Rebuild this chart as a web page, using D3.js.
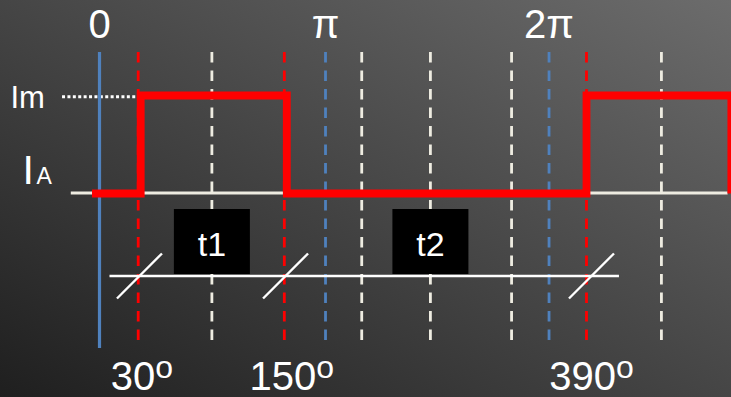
<!DOCTYPE html>
<html>
<head>
<meta charset="utf-8">
<script src="https://cdn.jsdelivr.net/npm/d3@7/dist/d3.min.js"></script>
<style>
    html, body { margin: 0; padding: 0; background: #3a3a3a; }
    svg { display: block; }
    text { font-family: "Liberation Sans", Arial, sans-serif; fill: #ffffff; }
</style>
</head>
<body>
<svg id="canvas" width="731" height="397"></svg>
<script>
// phase current i_A, angles in degrees
var waveDeg = [-6, 33, 33, 150, 150, 390, 390, 506, 506];
var waveLevel = [0, 0, 1, 1, 0, 0, 1, 1, 0];

// dashed guide lines
var redGuides = [31, 148, 390];
var blueGuides = [181, 360];
var whiteGuides = [90, 210, 265, 330, 450];

var topLabelDeg = [0, 181, 360];
var topLabelText = ["0", "\u03c0", "2\u03c0"];
var bottomLabelDeg = [30, 150, 390];
var bottomLabelText = ["30", "150", "390"];

var intervalDeg = [90, 265];
var intervalText = ["t1", "t2"];
var slashDeg = [32, 149, 394];

var baselineSpan = [-23, 503];
var timeAxisSpan = [8, 416];
var imDotSpan = [-30, 95];

var svg = d3.select("#canvas");
var W = 731, H = 397;

var x = d3.scaleLinear().domain([0, 390]).range([99.5, 586.5]);
var y = d3.scaleLinear().domain([0, 1]).range([193.5, 95.5]);

var guideTop = 52, guideBottom = 343;
var axisY = 276;

// background, dark bottom-left to lighter top-right
var grad = svg.append("defs").append("linearGradient")
    .attr("id", "bg")
    .attr("x1", 0).attr("y1", 1)
    .attr("x2", 1).attr("y2", 0);
grad.append("stop").attr("offset", 0).attr("stop-color", "#1f1f1f");
grad.append("stop").attr("offset", 1).attr("stop-color", "#6c6c6c");
svg.append("rect").attr("width", W).attr("height", H).attr("fill", "url(#bg)");

// zero line
svg.append("line")
    .attr("x1", x(baselineSpan[0])).attr("x2", x(baselineSpan[1]))
    .attr("y1", y(0) - 0.5).attr("y2", y(0) - 0.5)
    .attr("stroke", "#eeece1").attr("stroke-width", 3);

// Im dotted level
svg.append("line")
    .attr("x1", x(imDotSpan[0])).attr("x2", x(imDotSpan[1]))
    .attr("y1", y(1) + 1.2).attr("y2", y(1) + 1.2)
    .attr("stroke", "#ffffff").attr("stroke-width", 3)
    .attr("stroke-dasharray", "3,2.4");

function drawGuides(list, color) {
    svg.append("g").selectAll("line").data(list).enter().append("line")
        .attr("x1", function (d) { return x(d); })
        .attr("x2", function (d) { return x(d); })
        .attr("y1", guideTop).attr("y2", guideBottom)
        .attr("stroke", color).attr("stroke-width", 2.8)
        .attr("stroke-dasharray", "10.5,8");
}
drawGuides(whiteGuides, "#eeece1");
drawGuides(blueGuides, "#4f81bd");
drawGuides(redGuides, "#ff0000");

// solid blue at 0
svg.append("line")
    .attr("x1", x(0)).attr("x2", x(0))
    .attr("y1", guideTop).attr("y2", 348)
    .attr("stroke", "#4f81bd").attr("stroke-width", 3.2);

// square wave
var pts = waveDeg.map(function (d, i) { return [x(d), y(waveLevel[i])]; });
svg.append("path")
    .attr("d", d3.line()(pts))
    .attr("fill", "none")
    .attr("stroke", "#ff0000")
    .attr("stroke-width", 7.8)
    .attr("stroke-linejoin", "miter")
    .attr("stroke-linecap", "butt");

// time axis with break marks
svg.append("line")
    .attr("x1", x(timeAxisSpan[0])).attr("x2", x(timeAxisSpan[1]))
    .attr("y1", axisY).attr("y2", axisY)
    .attr("stroke", "#ffffff").attr("stroke-width", 2.4);

svg.append("g").selectAll("line").data(slashDeg).enter().append("line")
    .attr("x1", function (d) { return x(d) - 22.5; })
    .attr("x2", function (d) { return x(d) + 22.5; })
    .attr("y1", axisY + 22.5).attr("y2", axisY - 22.5)
    .attr("stroke", "#ffffff").attr("stroke-width", 2.4);

// t1 / t2 boxes
var box = svg.append("g").selectAll("g").data(intervalDeg).enter().append("g");
box.append("rect")
    .attr("x", function (d) { return x(d) - 38; })
    .attr("y", 209)
    .attr("width", 76).attr("height", 65)
    .attr("fill", "#000000");
box.append("text")
    .attr("x", function (d) { return x(d); })
    .attr("y", 255.5)
    .attr("text-anchor", "middle")
    .attr("font-size", 34)
    .text(function (d, i) { return intervalText[i]; });

// top labels 0, pi, 2pi
svg.append("g").selectAll("text").data(topLabelDeg).enter().append("text")
    .attr("x", function (d) { return x(d); })
    .attr("y", 38)
    .attr("text-anchor", "middle")
    .attr("font-size", 40)
    .text(function (d, i) { return topLabelText[i]; });

// bottom labels with raised degree mark
var bl = svg.append("g").selectAll("text").data(bottomLabelDeg).enter().append("text")
    .attr("x", function (d) { return x(d) + 5; })
    .attr("y", 390)
    .attr("text-anchor", "middle")
    .attr("font-size", 40);
bl.append("tspan").text(function (d, i) { return bottomLabelText[i]; });
bl.append("tspan").attr("font-size", 32).attr("dy", -11.7).text("o");

// y labels
svg.append("text")
    .attr("x", 10.5).attr("y", 108)
    .attr("font-size", 31)
    .text("Im");
var ia = svg.append("text").attr("x", 22.5).attr("y", 183.5);
ia.append("tspan").attr("font-size", 41).text("I");
ia.append("tspan").attr("font-size", 23).attr("dx", 2.5).text("A");
</script>
</body>
</html>
